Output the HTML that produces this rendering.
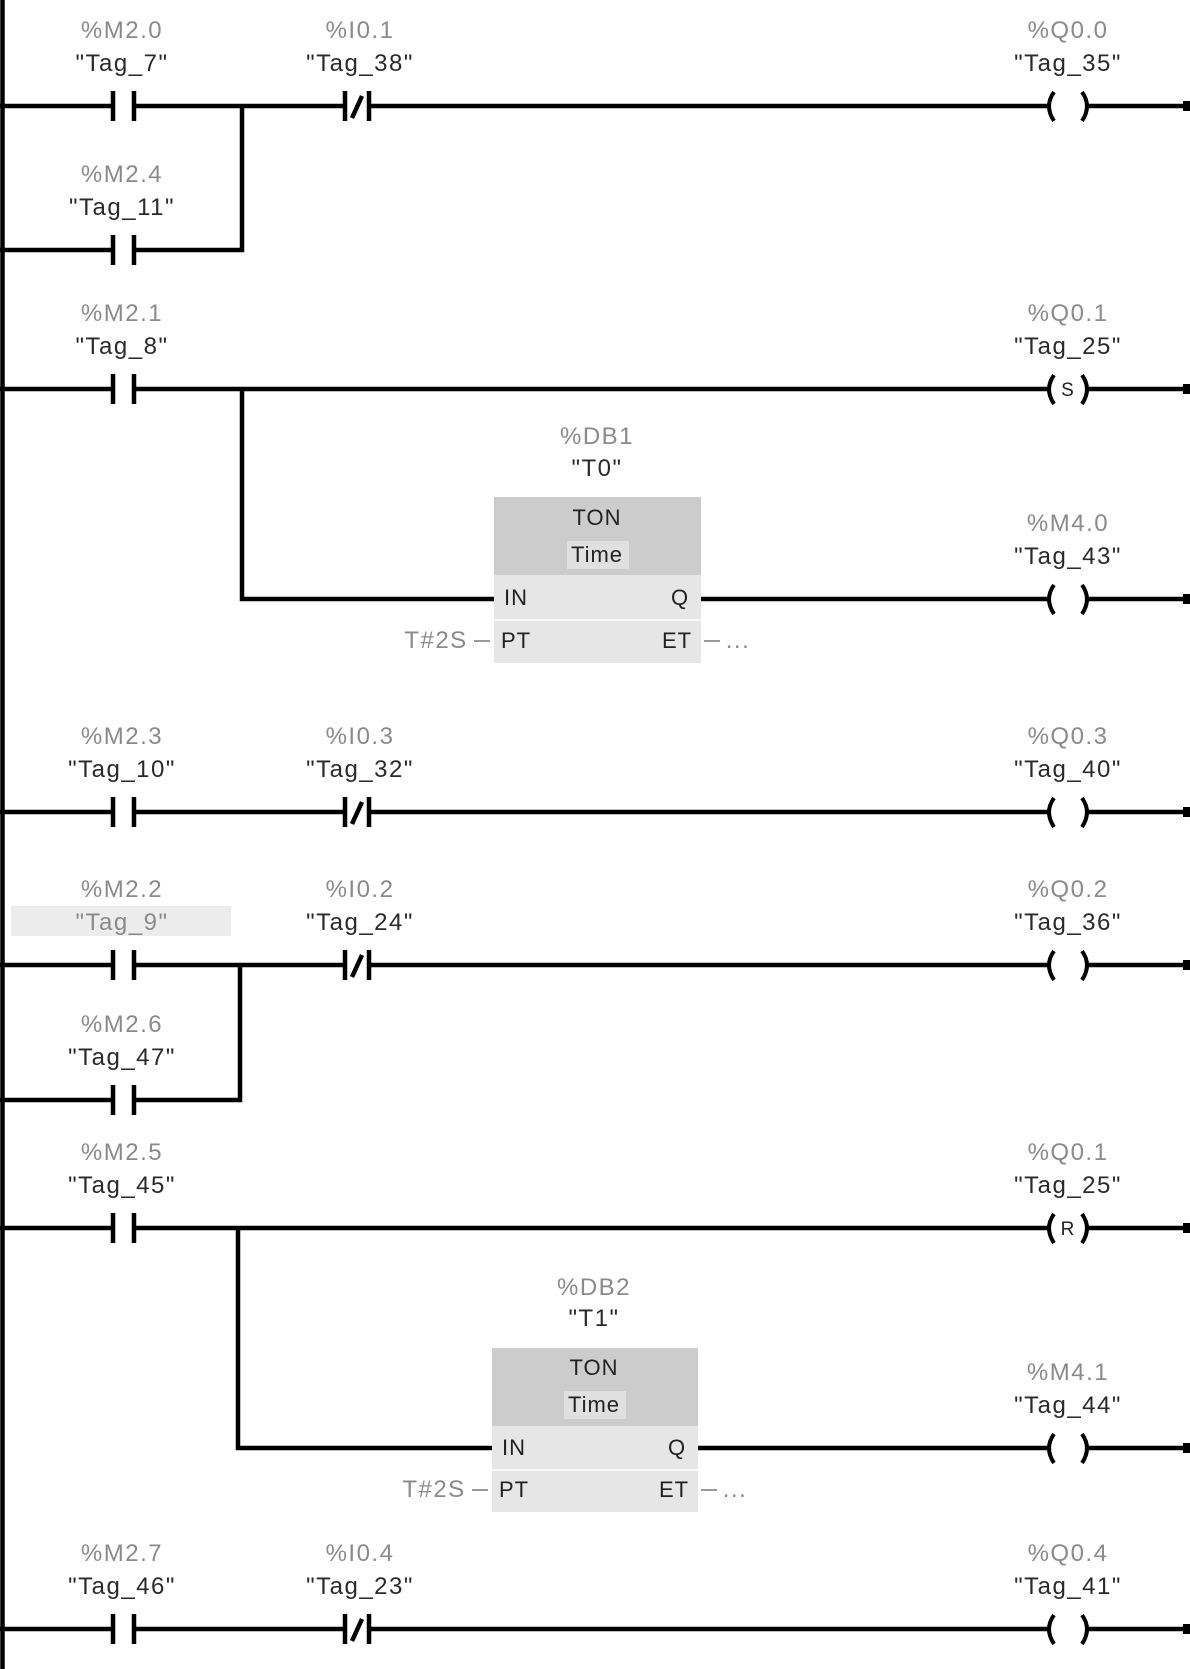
<!DOCTYPE html>
<html><head><meta charset="utf-8"><style>
html,body{margin:0;padding:0;background:#fff;}
svg{display:block;}
text{font-family:"Liberation Sans",sans-serif;font-size:24px;text-anchor:middle;letter-spacing:1.5px;}
.a{fill:#8a8a8a;}
.t{fill:#2a2a2a;}
.p{fill:#222;font-size:22px;letter-spacing:1px;}
</style></head><body>
<svg width="1190" height="1669" viewBox="0 0 1190 1669" xmlns="http://www.w3.org/2000/svg">
<g stroke="#000" stroke-width="4.5" fill="none">
<line x1="2.5" y1="0" x2="2.5" y2="1669"/>
<path d="M0 106H111M136 106H343M371 106H1048M1088 106H1187"/>
<path d="M0 250H111M136 250H242V106"/>
<path d="M0 389H111M136 389H1048M1088 389H1187"/>
<path d="M242 389V599H494M701 599H1048M1088 599H1187"/>
<path d="M0 812H111M136 812H343M371 812H1048M1088 812H1187"/>
<path d="M0 965H111M136 965H343M371 965H1048M1088 965H1187"/>
<path d="M0 1100H111M136 1100H240V965"/>
<path d="M0 1228H111M136 1228H1048M1088 1228H1187"/>
<path d="M238 1228V1448H492M698 1448H1048M1088 1448H1187"/>
<path d="M0 1629H111M136 1629H343M371 1629H1048M1088 1629H1187"/>
</g>
<g fill="#000">
<rect x="1183" y="101" width="7" height="10"/><rect x="1183" y="384" width="7" height="10"/>
<rect x="1183" y="594" width="7" height="10"/><rect x="1183" y="807" width="7" height="10"/>
<rect x="1183" y="960" width="7" height="10"/><rect x="1183" y="1223" width="7" height="10"/>
<rect x="1183" y="1443" width="7" height="10"/><rect x="1183" y="1624" width="7" height="10"/>
</g>
<g stroke="#000" stroke-width="4.5">
<path d="M113 91V121M134 91V121"/>
<path d="M113 235V265M134 235V265"/>
<path d="M113 374V404M134 374V404"/>
<path d="M113 797V827M134 797V827"/>
<path d="M113 950V980M134 950V980"/>
<path d="M113 1085V1115M134 1085V1115"/>
<path d="M113 1213V1243M134 1213V1243"/>
<path d="M113 1614V1644M134 1614V1644"/>
<path d="M345 91V121M369 91V121M352 118L362 96"/>
<path d="M345 797V827M369 797V827M352 824L362 802"/>
<path d="M345 950V980M369 950V980M352 977L362 955"/>
<path d="M345 1614V1644M369 1614V1644M352 1641L362 1619"/>
</g>
<g stroke="#000" stroke-width="4" fill="none">
<path d="M1054 92Q1044 106 1054 121M1082 92Q1092 106 1082 121"/>
<path d="M1054 375Q1044 389 1054 404M1082 375Q1092 389 1082 404"/>
<path d="M1054 585Q1044 599 1054 614M1082 585Q1092 599 1082 614"/>
<path d="M1054 798Q1044 812 1054 827M1082 798Q1092 812 1082 827"/>
<path d="M1054 951Q1044 965 1054 980M1082 951Q1092 965 1082 980"/>
<path d="M1054 1214Q1044 1228 1054 1243M1082 1214Q1092 1228 1082 1243"/>
<path d="M1054 1434Q1044 1448 1054 1463M1082 1434Q1092 1448 1082 1463"/>
<path d="M1054 1615Q1044 1629 1054 1644M1082 1615Q1092 1629 1082 1644"/>
</g>
<text x="1068" y="396" class="p" style="font-size:19px">S</text>
<text x="1068" y="1235" class="p" style="font-size:19px">R</text>
<rect x="11" y="906" width="220" height="30" fill="#ececec"/>
<text class="a" x="122" y="38">%M2.0</text><text class="t" x="122" y="71">"Tag_7"</text>
<text class="a" x="360" y="38">%I0.1</text><text class="t" x="360" y="71">"Tag_38"</text>
<text class="a" x="1068" y="38">%Q0.0</text><text class="t" x="1068" y="71">"Tag_35"</text>
<text class="a" x="122" y="182">%M2.4</text><text class="t" x="122" y="215">"Tag_11"</text>
<text class="a" x="122" y="321">%M2.1</text><text class="t" x="122" y="354">"Tag_8"</text>
<text class="a" x="1068" y="321">%Q0.1</text><text class="t" x="1068" y="354">"Tag_25"</text>
<text class="a" x="1068" y="531">%M4.0</text><text class="t" x="1068" y="564">"Tag_43"</text>
<text class="a" x="122" y="744">%M2.3</text><text class="t" x="122" y="777">"Tag_10"</text>
<text class="a" x="360" y="744">%I0.3</text><text class="t" x="360" y="777">"Tag_32"</text>
<text class="a" x="1068" y="744">%Q0.3</text><text class="t" x="1068" y="777">"Tag_40"</text>
<text class="a" x="122" y="897">%M2.2</text><text class="a" x="122" y="930">"Tag_9"</text>
<text class="a" x="360" y="897">%I0.2</text><text class="t" x="360" y="930">"Tag_24"</text>
<text class="a" x="1068" y="897">%Q0.2</text><text class="t" x="1068" y="930">"Tag_36"</text>
<text class="a" x="122" y="1032">%M2.6</text><text class="t" x="122" y="1065">"Tag_47"</text>
<text class="a" x="122" y="1160">%M2.5</text><text class="t" x="122" y="1193">"Tag_45"</text>
<text class="a" x="1068" y="1160">%Q0.1</text><text class="t" x="1068" y="1193">"Tag_25"</text>
<text class="a" x="1068" y="1380">%M4.1</text><text class="t" x="1068" y="1413">"Tag_44"</text>
<text class="a" x="122" y="1561">%M2.7</text><text class="t" x="122" y="1594">"Tag_46"</text>
<text class="a" x="360" y="1561">%I0.4</text><text class="t" x="360" y="1594">"Tag_23"</text>
<text class="a" x="1068" y="1561">%Q0.4</text><text class="t" x="1068" y="1594">"Tag_41"</text>
<text class="a" x="597" y="444">%DB1</text><text class="t" x="597" y="476">"T0"</text>
<rect x="494" y="497" width="207" height="166" fill="#e6e6e6"/>
<rect x="494" y="497" width="207" height="78" fill="#cccccc"/>
<rect x="567" y="541" width="62" height="28" fill="#e0e0e0"/>
<line x1="494" y1="620" x2="701" y2="620" stroke="#fff" stroke-width="1.5"/>
<text class="p" x="597" y="525">TON</text><text class="p" x="597" y="562">Time</text>
<text class="p" x="516" y="605">IN</text><text class="p" x="680" y="605">Q</text>
<text class="p" x="516" y="648">PT</text><text class="p" x="677" y="648">ET</text>
<text class="a" x="436" y="648">T#2S</text>
<line x1="474" y1="641" x2="490" y2="641" stroke="#999" stroke-width="2"/>
<line x1="704" y1="641" x2="720" y2="641" stroke="#999" stroke-width="2"/>
<text class="a" x="738" y="648">...</text>
<text class="a" x="594" y="1295">%DB2</text><text class="t" x="594" y="1326">"T1"</text>
<rect x="492" y="1348" width="206" height="164" fill="#e6e6e6"/>
<rect x="492" y="1348" width="206" height="78" fill="#cccccc"/>
<rect x="564" y="1391" width="62" height="28" fill="#e0e0e0"/>
<line x1="492" y1="1470" x2="698" y2="1470" stroke="#fff" stroke-width="1.5"/>
<text class="p" x="594" y="1375">TON</text><text class="p" x="594" y="1412">Time</text>
<text class="p" x="514" y="1455">IN</text><text class="p" x="677" y="1455">Q</text>
<text class="p" x="514" y="1497">PT</text><text class="p" x="674" y="1497">ET</text>
<text class="a" x="434" y="1497">T#2S</text>
<line x1="472" y1="1490" x2="488" y2="1490" stroke="#999" stroke-width="2"/>
<line x1="701" y1="1490" x2="717" y2="1490" stroke="#999" stroke-width="2"/>
<text class="a" x="735" y="1497">...</text>
</svg>
</body></html>
